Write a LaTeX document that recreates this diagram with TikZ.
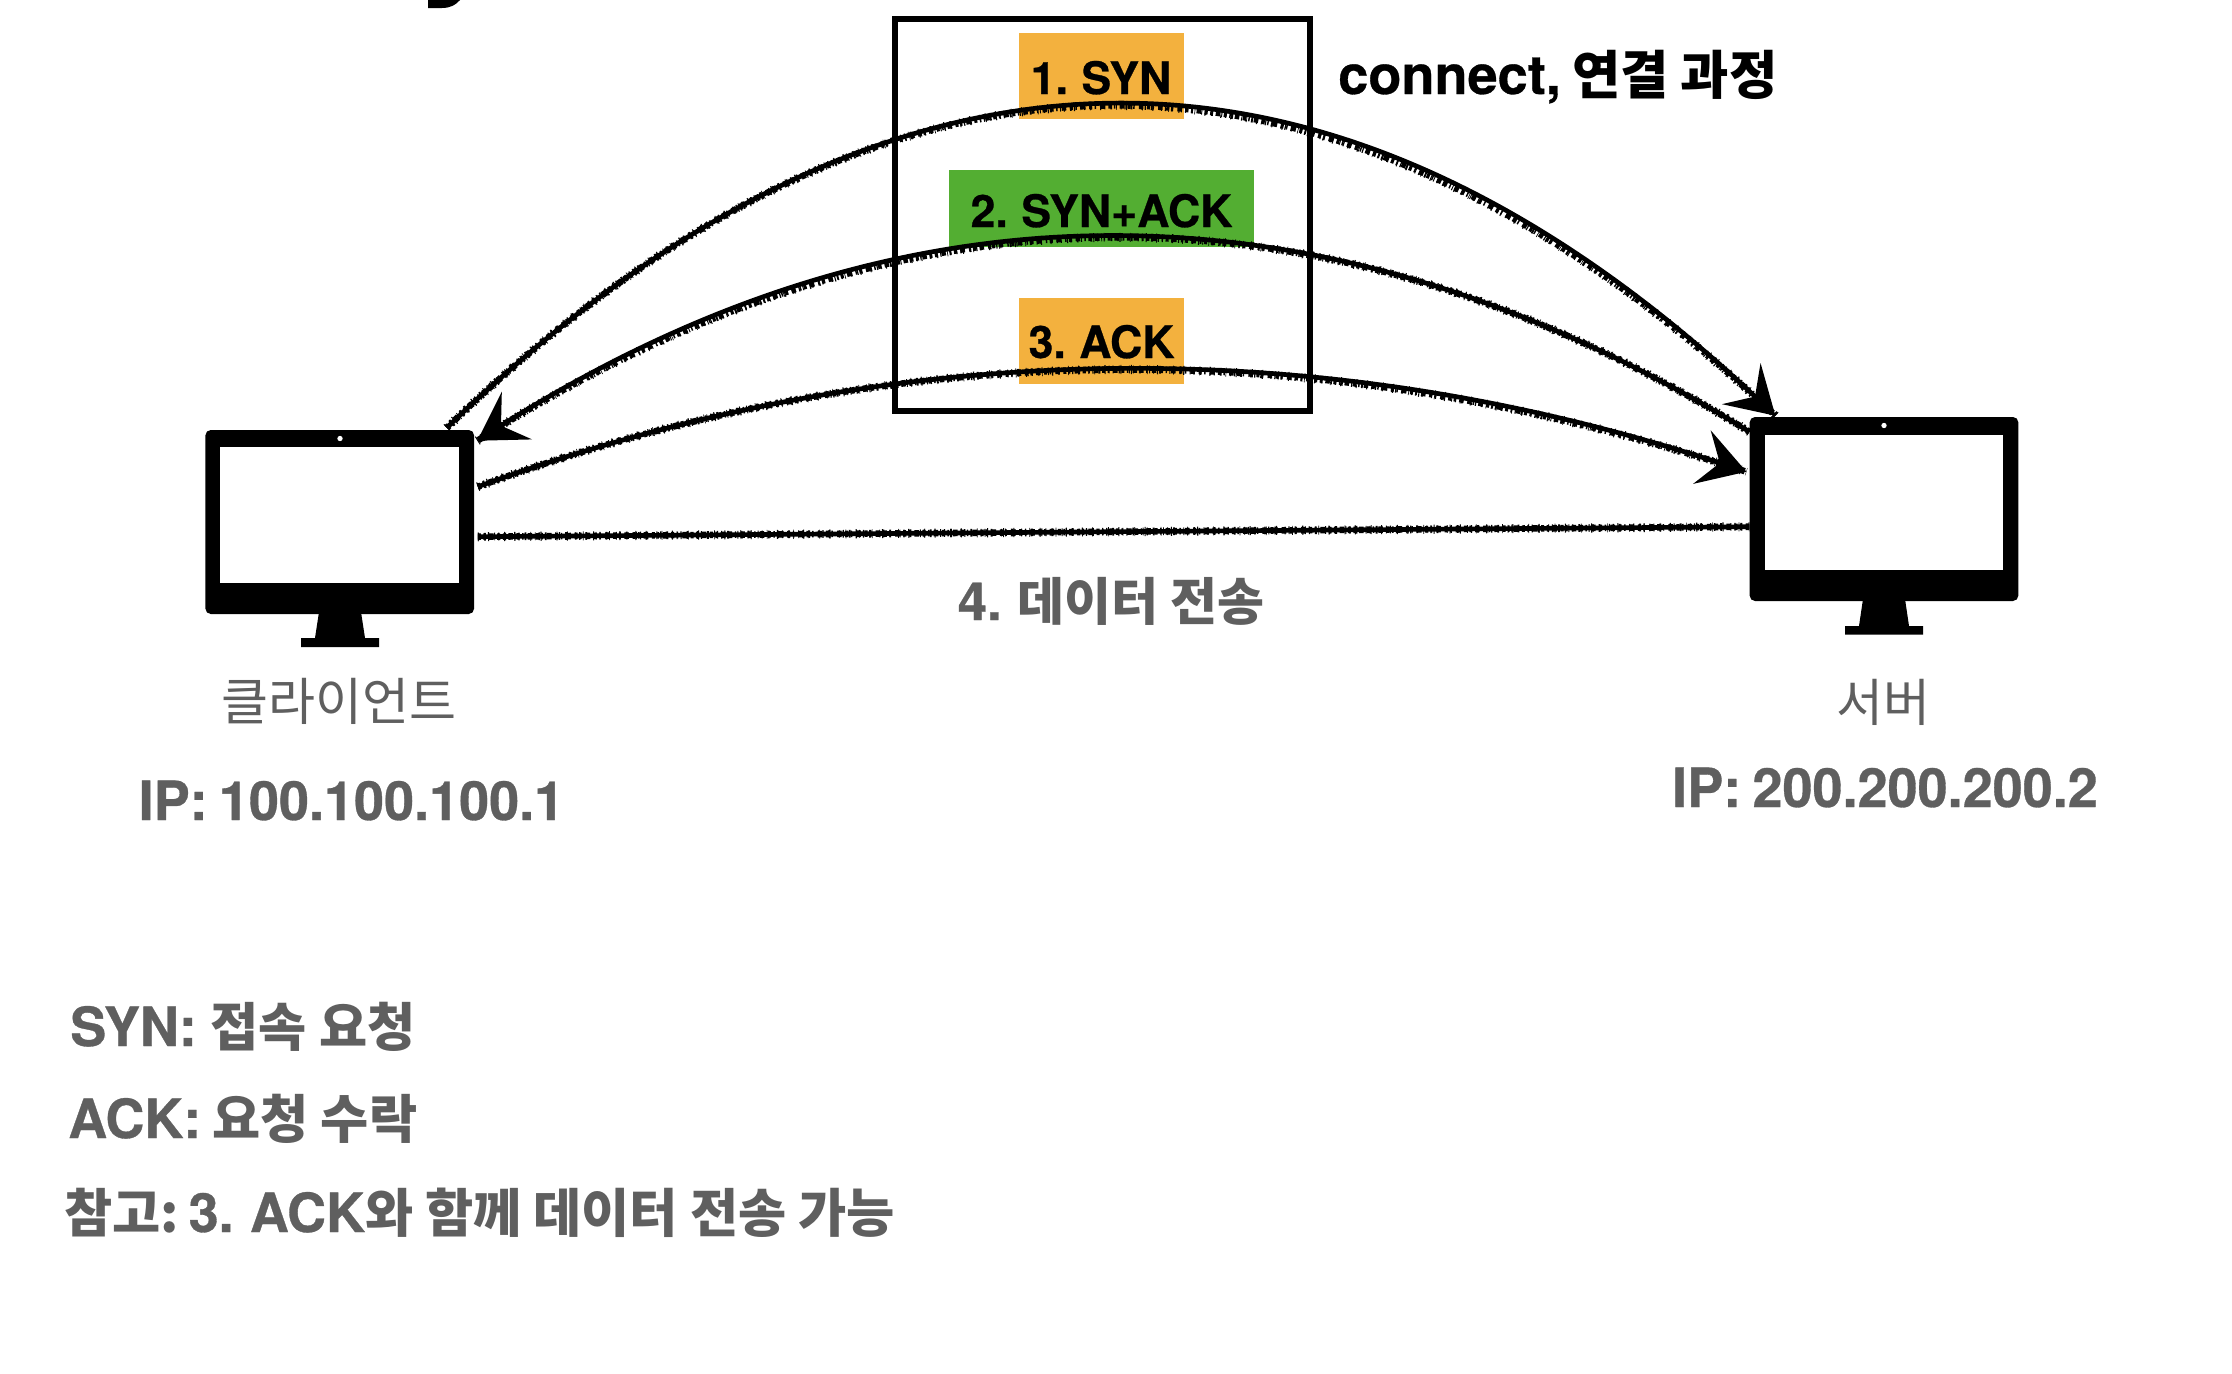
\documentclass[tikz,border=0pt]{standalone}
\usepackage{fontspec}
\setmainfont{TeX Gyre Heros}[WordSpace=0.75,BoldFeatures={FakeBold=0.6}]
\newfontfamily\krfont{Noto Sans CJK KR}[Scale=0.97]
\usetikzlibrary{calc,arrows.meta}
\newcommand{\K}[1]{{\krfont #1}}
\definecolor{boxorange}{HTML}{F3B13E}
\definecolor{boxgreen}{HTML}{53AE32}
\definecolor{txtgrey}{HTML}{5F5F5F}
\tikzset{
  x=0.75pt,y=-0.75pt,
  monitor/.style={fill=black,draw=none,inner sep=0pt,rounded corners=4pt,minimum width=201.5pt,minimum height=138pt},
  screen/.style={fill=white,draw=none,inner sep=0pt},
  camera/.style={circle,fill=white,draw=none,inner sep=0pt,minimum size=4pt},
  label/.style={inner sep=0pt,anchor=base,text=txtgrey},
  big/.style={font=\fontsize{40.5pt}{44pt}\selectfont\bfseries},
  mid/.style={font=\fontsize{33.5pt}{38pt}\selectfont\bfseries},
  thin/.style={font=\fontsize{39.5pt}{42pt}\selectfont},
  stepfill/.style={inner sep=0pt,draw=none},
  chalk/.style={line width=3.5pt,line cap=butt,black,
    preaction={draw,-,line width=5.8pt,dash pattern=on .9pt off 3.7pt on 1.4pt off 6.3pt on .7pt off 2.2pt},
    preaction={draw,-,line width=4.9pt,dash pattern=on 2.3pt off 1.9pt on 1.1pt off 3.1pt on 3.4pt off 2.7pt},
    preaction={draw,-,line width=6.8pt,dash pattern=on .5pt off 7.1pt on .8pt off 11.3pt},
  },
  sketchtip/.style={-{Stealth[length=35pt,width=42pt,inset=14pt]}},
}
\begin{document}
\begin{tikzpicture}
\useasboundingbox (0,0) rectangle (2232,1374);
\fill[white] (0,0) rectangle (2232,1374);
% remnant of a cropped title
\fill[black] (428,0) -- (428,8) -- (442,8) .. controls (450,8) and (456,5) .. (460,0) -- cycle;

% coloured labels
\node[stepfill,fill=boxorange,minimum width=123.75pt,minimum height=64.5pt] (syn) at (1101.5,76) {};
\node[stepfill,fill=boxgreen,minimum width=228.75pt,minimum height=57.75pt] (synack) at (1101.5,208.5) {};
\node[stepfill,fill=boxorange,minimum width=123.75pt,minimum height=64.5pt] (ackbox) at (1101.5,341) {};
\node[mid,inner sep=0pt,anchor=base,text=black] (t1) at (1101,94) {1. SYN};
\node[mid,inner sep=0pt,anchor=base,text=black] (t2) at (1101.5,227) {2. SYN+ACK};
\node[mid,inner sep=0pt,anchor=base,text=black] (t3) at (1101.5,358) {3. ACK};
% frame
\node[draw=black,line width=4.5pt,inner sep=0pt,minimum width=311.25pt,minimum height=294pt] (frame) at (1102,214.5) {};
\node[font=\fontsize{40.6pt}{44pt}\selectfont\bfseries,inner sep=0pt,anchor=base west,text=black] (conn) at (1338,94) {connect, \K{연결 과정}};

% monitors
\node[monitor] (client) at (339.75,522) {};
\node[screen,minimum width=179.25pt,minimum height=102pt] (cscreen) at (339.75,515) {};
\node[camera] (ccam) at (340,438.5) {};
\fill[black] (319,612) -- (361,612) -- (365,638) -- (379,638) -- (379,647) -- (301,647) -- (301,638) -- (315,638) -- cycle;
\node[monitor] (server) at (1884,509) {};
\node[screen,minimum width=178.5pt,minimum height=101.25pt] (sscreen) at (1884,502.5) {};
\node[camera] (scam) at (1884,425.5) {};
\fill[black] (1863,599) -- (1905,599) -- (1909,626) -- (1923,626) -- (1923,634.5) -- (1845,634.5) -- (1845,626) -- (1859,626) -- cycle;

% texts
\node[label,thin] (clabel) at (339,720) {\K{클라이언트}};
\node[label,big] (cip) at (351.5,820) {IP: 100.100.100.1};
\node[label,thin] (slabel) at (1883,721) {\K{서버}};
\node[label,big] (sip) at (1885,807) {IP: 200.200.200.2};
\node[label,mid,font=\fontsize{39.5pt}{44pt}\selectfont\bfseries] (data) at (1111,620) {4. \K{데이터 전송}};
\node[label,big,anchor=base west] (n1) at (70,1046) {SYN:\hspace{2pt} \K{접속 요청}};
\node[label,big,anchor=base west] (n2) at (68,1138) {ACK: \K{요청 수락}};
\node[label,big,anchor=base west] (n3) at (64,1232) {\K{참고:}\hspace{-5pt} 3. ACK\K{와 함께 데이터 전송 가능}};

% connector ends
\coordinate (a1s) at ($(client.north east)+(-27.5,-2)$);
\coordinate (a1e) at ($(server.north west)+(26,-1)$);
\coordinate (a2s) at ($(server.north west)+(0,15)$);
\coordinate (a2e) at ($(client.north east)+(3,11)$);
\coordinate (a3s) at ($(client.north east)+(3.5,57)$);
\coordinate (a3e) at ($(server.north west)+(-3,55)$);
\coordinate (a4s) at ($(client.north east)+(3.5,107)$);
\coordinate (a4e) at ($(server.north west)+(0,110)$);

% connectors
\draw[chalk,sketchtip] (a1s) .. controls (890,0) and (1333,0) .. (a1e);
\draw[chalk,sketchtip] (a2s) .. controls (1326,171) and (902,171) .. (a2e);
\draw[chalk,sketchtip] (a3s) .. controls (901,333) and (1324,333) .. (a3e);
\draw[chalk] (a4s) -- (a4e);
\end{tikzpicture}
\end{document}
